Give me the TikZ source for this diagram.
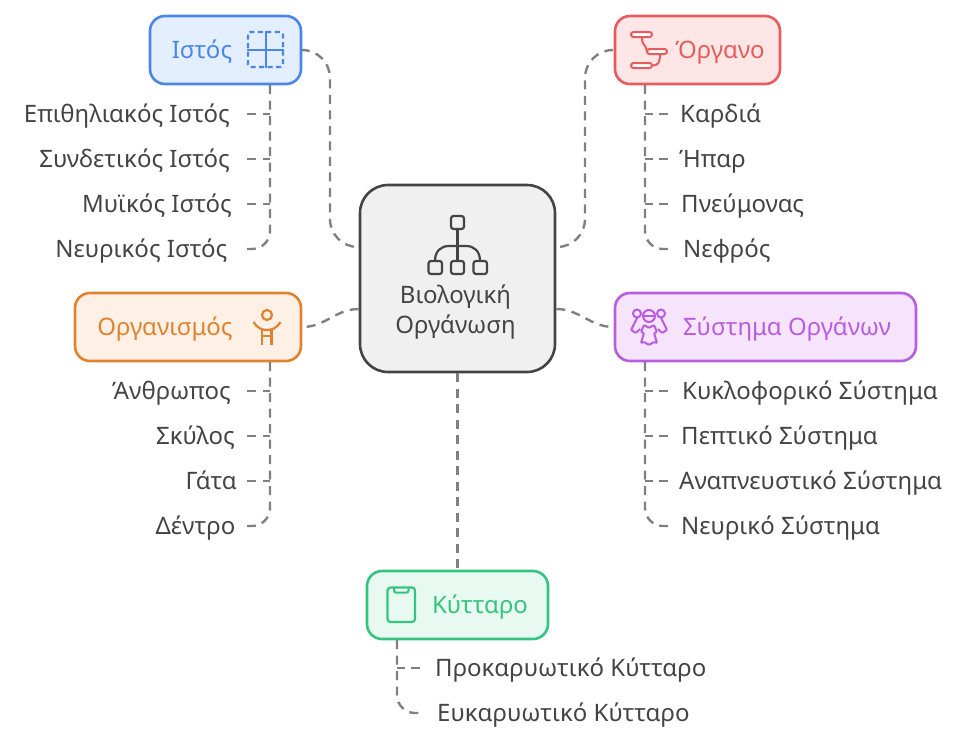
\documentclass[tikz,border=0pt]{standalone}
\usepackage{fontspec}
\setmainfont{Noto Sans}
\usetikzlibrary{calc}
\definecolor{mygray}{RGB}{128, 128, 128}
\definecolor{mytext}{RGB}{68, 68, 68}
\definecolor{myblue}{RGB}{74, 134, 232}
\definecolor{myred}{RGB}{230, 92, 92}
\definecolor{myorange}{RGB}{224, 131, 47}
\definecolor{mypurple}{RGB}{184, 93, 224}
\definecolor{mygreen}{RGB}{53, 196, 127}
\definecolor{bluefill}{RGB}{227, 238, 255}
\definecolor{redfill}{RGB}{255, 230, 230}
\definecolor{orangefill}{RGB}{254, 240, 228}
\definecolor{purplefill}{RGB}{246, 228, 253}
\definecolor{greenfill}{RGB}{232, 249, 241}
\tikzset{
  % dashed connector
  link/.style={draw=mygray,line width=2.4pt,dash pattern=on 9pt off 6.5pt},
  % boxes
  rootbox/.style={rectangle,rounded corners=28pt,draw=mytext,fill=black!6,line width=2.6pt,minimum width=195pt,minimum height=187pt},
  topicbox/.style={rectangle,rounded corners=15pt,line width=2.6pt,minimum height=68pt},
  % texts
  title/.style={font=\fontsize{24}{30}\selectfont,inner sep=0pt,text height=16pt,text depth=0pt},
  leafl/.style={font=\fontsize{24}{30}\selectfont,text=mytext,anchor=east,inner ysep=0pt,text height=16pt,text depth=0pt},
  leafr/.style={font=\fontsize{24}{30}\selectfont,text=mytext,anchor=west,inner ysep=0pt,text height=16pt,text depth=0pt},
  % icon strokes
  icon/.style={line width=2.2pt,rounded corners=2.5pt},
}
\begin{document}
\begin{tikzpicture}[x=1pt,y=-1pt]
\useasboundingbox (0,0) rectangle (960,744);
%%%%%%%%%%%%%%%%%%%%%%%%%%%%%%%%%%%%%%%
\node[rootbox] (root) at (457.5,278.5) {};
\node[topicbox,draw=myblue,fill=bluefill,minimum width=151pt] (ist) at (225.5,50) {};
\node[topicbox,draw=myred,fill=redfill,minimum width=165pt] (org) at (697.5,50) {};
\node[topicbox,draw=myorange,fill=orangefill,minimum width=226pt] (zoi) at (188,327) {};
\node[topicbox,draw=mypurple,fill=purplefill,minimum width=301pt] (sys) at (765.5,327) {};
\node[topicbox,draw=mygreen,fill=greenfill,minimum width=181pt] (kyt) at (457.5,605) {};
%%%%%%%%%%%%%%%%%%%%%%%%%%%%%%%%%%%%%%%
\node[font=\fontsize{24}{30}\selectfont,text=mytext,align=center,inner sep=0pt] (roottxt) at (455.5,312) {Βιολογική\\Οργάνωση};
\node[title,text=myblue] (isttxt) at (202,50) {Ιστός};
\node[title,text=myred] (orgtxt) at (720,50) {Όργανο};
\node[title,text=myorange] (zoitxt) at (165,327) {Οργανισμός};
\node[title,text=mypurple] (systxt) at (787,327) {Σύστημα Οργάνων};
\node[title,text=mygreen] (kyttxt) at (480,605) {Κύτταρο};
%%%%%%%%%%%%%%%%%%%%%%%%%%%%%%%%%%%%%%%
\node[leafl,inner xsep=17pt] (ista) at (247,114) {Επιθηλιακός Ιστός};
\node[leafl,inner xsep=17pt] (istb) at (247,159) {Συνδετικός Ιστός};
\node[leafl,inner xsep=15pt] (istc) at (247,204) {Μυϊκός Ιστός};
\node[leafl,inner xsep=19.5pt] (istd) at (247,249) {Νευρικός Ιστός};
\node[leafr,inner xsep=12pt] (orga) at (668,114) {Καρδιά};
\node[leafr,inner xsep=11pt] (orgb) at (668,159) {Ήπαρ};
\node[leafr,inner xsep=13pt] (orgc) at (668,204) {Πνεύμονας};
\node[leafr,inner xsep=15pt] (orgd) at (668,249) {Νεφρός};
\node[leafl,inner xsep=16pt] (zoia) at (247,391) {Άνθρωπος};
\node[leafl,inner xsep=12pt] (zoib) at (247,436) {Σκύλος};
\node[leafl,inner xsep=10pt] (zoic) at (247,481) {Γάτα};
\node[leafl,inner xsep=11.5pt] (zoid) at (247,526) {Δέντρο};
\node[leafr,inner xsep=14pt] (sysa) at (668,391) {Κυκλοφορικό Σύστημα};
\node[leafr,inner xsep=13pt] (sysb) at (668,436) {Πεπτικό Σύστημα};
\node[leafr,inner xsep=11pt] (sysc) at (668,481) {Αναπνευστικό Σύστημα};
\node[leafr,inner xsep=13pt] (sysd) at (668,526) {Νευρικό Σύστημα};
\node[leafr,inner xsep=15pt] (kyta) at (420,668) {Προκαρυωτικό Κύτταρο};
\node[leafr,inner xsep=17pt] (kytb) at (420,713) {Ευκαρυωτικό Κύτταρο};
%%%%%%%%%%%%%%%%%%%%%%%%%%%%%%%%%%%%%%%
\coordinate (isttrunk) at (270,85);
\coordinate (orgtrunk) at (645,85);
\coordinate (zoitrunk) at (270,362);
\coordinate (systrunk) at (645,362);
\coordinate (kyttrunk) at (397,640);
%%%%%%%%%%%%%%%%%%%%%%%%%%%%%%%%%%%%%%%
\draw[link,rounded corners=28pt] ([xshift=1pt]ist.east) -| (330,247) -- ([yshift=31.5pt]root.west);
\draw[link,rounded corners=28pt] ([xshift=-1pt]org.west) -| (585,247) -- ([yshift=31.5pt]root.east);
\draw[link] ([yshift=-30.5pt]root.west) to[out=180,in=0] (zoi.east);
\draw[link] ([yshift=-30.5pt]root.east) to[out=0,in=180] (sys.west);
\draw[link] (root.south) -- (kyt.north);
%%%%%%%%%%%%%%%%%%%%%%%%%%%%%%%%%%%%%%%
\draw[link,rounded corners=18pt] (isttrunk) |- (istd.east);
\draw[link] (ista.east) -- (ista.east -| isttrunk);
\draw[link] (istb.east) -- (istb.east -| isttrunk);
\draw[link] (istc.east) -- (istc.east -| isttrunk);
\draw[link,rounded corners=18pt] (orgtrunk) |- (orgd.west);
\draw[link] (orga.west) -- (orga.west -| orgtrunk);
\draw[link] (orgb.west) -- (orgb.west -| orgtrunk);
\draw[link] (orgc.west) -- (orgc.west -| orgtrunk);
\draw[link,rounded corners=18pt] (zoitrunk) |- (zoid.east);
\draw[link] (zoia.east) -- (zoia.east -| zoitrunk);
\draw[link] (zoib.east) -- (zoib.east -| zoitrunk);
\draw[link] (zoic.east) -- (zoic.east -| zoitrunk);
\draw[link,rounded corners=18pt] (systrunk) |- (sysd.west);
\draw[link] (sysa.west) -- (sysa.west -| systrunk);
\draw[link] (sysb.west) -- (sysb.west -| systrunk);
\draw[link] (sysc.west) -- (sysc.west -| systrunk);
\draw[link,rounded corners=18pt] (kyttrunk) |- (kytb.west);
\draw[link] (kyta.west) -- (kyta.west -| kyttrunk);
%%%%%%%%%%%%%%%%%%%%%%%%%%%%%%%%%%%%%%%
% root icon
\draw[icon,draw=mytext] (451,216) rectangle (464,229);
\draw[icon,draw=mytext] (428.5,261) rectangle (442,274);
\draw[icon,draw=mytext] (451,261) rectangle (464,274);
\draw[icon,draw=mytext] (473.5,261) rectangle (487,274);
\draw[icon,draw=mytext,rounded corners=0pt] (457.5,229) -- (457.5,261);
\draw[icon,draw=mytext,rounded corners=0pt] (435,261) .. controls (435,251) and (441,246) .. (449,246) -- (466,246) .. controls (474,246) and (480,251) .. (480,261);
% ist icon
\draw[icon,draw=myblue,dash pattern=on 5pt off 3.5pt] (248,32) rectangle (283,67);
\draw[icon,draw=myblue,line width=2pt,rounded corners=0pt] (247,49.5) -- (284,49.5);
\draw[icon,draw=myblue,line width=2pt,rounded corners=0pt] (265.5,31) -- (265.5,68);
% org icon
\draw[icon,draw=myred,line width=2pt,fill=white,rounded corners=2.5pt] (631,32) rectangle (652,37);
\draw[icon,draw=myred,line width=2pt,fill=white,rounded corners=2.5pt] (647,49) rectangle (667,54);
\draw[icon,draw=myred,line width=2pt,fill=white,rounded corners=2.5pt] (631,63) rectangle (652,68);
\draw[icon,draw=myred,line width=2pt,rounded corners=0pt] (642,37) .. controls (642,47) and (645,42) .. (647,51.5);
\draw[icon,draw=myred,line width=2pt,rounded corners=0pt] (660,54) .. controls (660,63) and (658,65.5) .. (652,65.5);
% zoi icon
\draw[icon,draw=myorange,rounded corners=0pt] (267,315) circle (5pt);
\draw[icon,draw=myorange,rounded corners=0pt] (253.5,322) .. controls (257,328) and (262,330) .. (267,330) .. controls (272,330) and (277,328) .. (280.5,322);
\draw[icon,draw=myorange,rounded corners=0pt] (262,330) -- (262,345);
\draw[icon,draw=myorange,rounded corners=0pt] (271.5,330) -- (271.5,345);
\draw[icon,draw=myorange,rounded corners=0pt] (262,336) -- (271.5,336);
% sys icon
\draw[icon,draw=mypurple,line width=2pt,rounded corners=0pt] (649,316) circle (6pt);
\draw[icon,draw=mypurple,line width=2pt,rounded corners=0pt] (643,316) -- (655,316);
\draw[icon,draw=mypurple,line width=2pt,rounded corners=0pt] (637,313.5) circle (4pt);
\draw[icon,draw=mypurple,line width=2pt,rounded corners=0pt] (661,313.5) circle (4pt);
\draw[icon,draw=mypurple,line width=2pt,rounded corners=1pt] (649,345) -- (644,342) -- (641,343) -- (644,333) -- (641,332) -- (644,325) -- (649,328) -- (654,325) -- (657,332) -- (654,333) -- (657,343) -- (654,342) -- cycle;
\draw[icon,draw=mypurple,line width=2pt,rounded corners=1pt] (637,318) -- (631,330) -- (636,333) -- (640,329);
\draw[icon,draw=mypurple,line width=2pt,rounded corners=1pt] (661,318) -- (667,330) -- (662,333) -- (658,329);
% kyt icon
\draw[icon,draw=mygreen,rounded corners=3pt] (387.5,587.5) rectangle (415,622);
\draw[icon,draw=mygreen,line width=2pt,rounded corners=2pt] (394,588) -- (394,592.5) -- (408.5,592.5) -- (408.5,588);
\end{tikzpicture}
\end{document}
